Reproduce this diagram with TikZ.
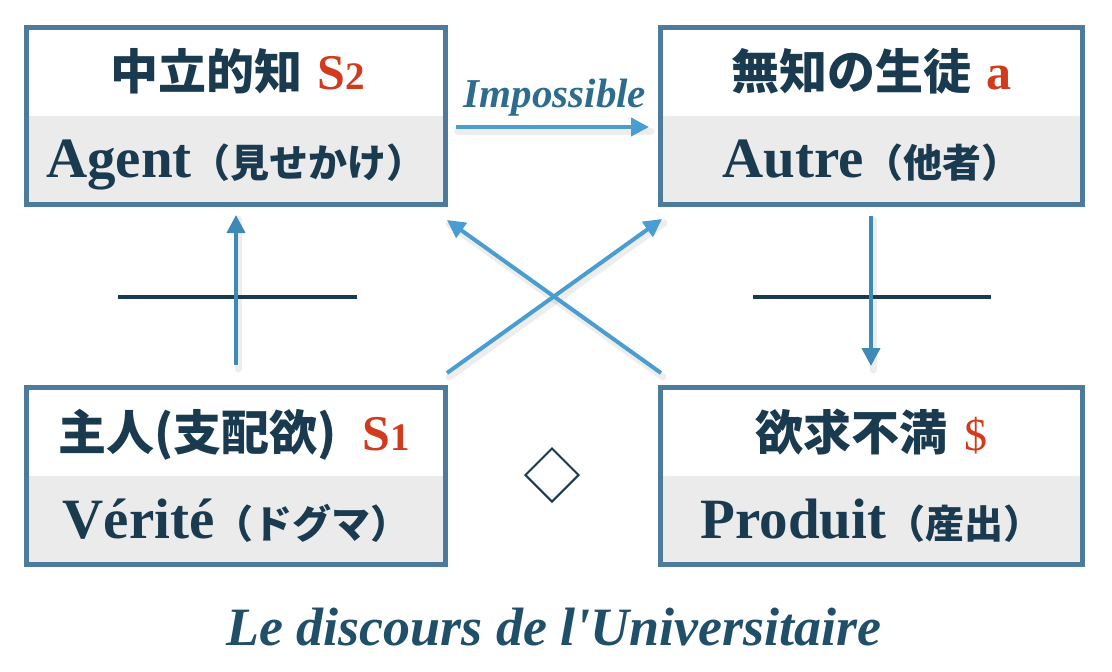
\documentclass[tikz,border=0pt]{standalone}
\usepackage{fontspec}
\setmainfont{Liberation Serif}
\newfontfamily\cjk{Noto Sans CJK JP}
\newfontfamily\rawserif{Liberation Serif}[Ligatures=TeXOff]
\usetikzlibrary{arrows.meta,shapes.geometric}
\definecolor{navy}{HTML}{1A3A4F}
\definecolor{redS}{HTML}{D23A1E}
\definecolor{frame}{HTML}{4D7B9B}
\definecolor{band}{HTML}{EBEBEB}
\definecolor{arrv}{HTML}{3F89B6}
\definecolor{arrd}{HTML}{4A9DD0}
\definecolor{imp}{HTML}{2D6C8D}
\definecolor{ttl}{HTML}{1F4F69}
\tikzset{
  box/.style={draw=frame, line width=5pt, fill=white, inner sep=0pt,
    path picture={\fill[band] (path picture bounding box.west) rectangle (path picture bounding box.south east);}},
  lbl/.style={anchor=base, inner sep=0pt, text=navy},
  flow/.style={line width=4pt, -{Triangle[length=18pt,width=18pt]}},
  shade/.style={line width=7pt, draw=black, opacity=0.07, line cap=round},
  bar/.style={line width=4pt, draw=navy},
}
\newcommand{\jt}[1]{{\cjk\bfseries\fontsize{48}{50}\selectfont #1}}
\newcommand{\js}[1]{{\cjk\bfseries\fontsize{39}{41}\selectfont #1}}
\newcommand{\rs}[2]{{\color{redS}\bfseries\fontsize{50}{52}\selectfont #1\fontsize{39}{41}\selectfont #2}}
\newcommand{\lw}[1]{{\bfseries\fontsize{57}{58}\selectfont #1}}
\begin{document}
\begin{tikzpicture}[x=1pt,y=-1pt]
\useasboundingbox (0,0) rectangle (1112,672);
% boxes
\node[box, minimum width=419pt, minimum height=177pt] (TL) at (236,116) {};
\node[box, minimum width=422pt, minimum height=177pt] (TR) at (871.5,116) {};
\node[box, minimum width=419pt, minimum height=177pt] (BL) at (236,475.5) {};
\node[box, minimum width=422pt, minimum height=177pt] (BR) at (871.5,475.5) {};
% texts
\node[lbl] (t1) at (238,89) {\jt{中立的知}\hspace{15pt}\rs{S}{2}};
\node[lbl] (t2) at (236,177) {\lw{Agent}\js{（見せかけ）}};
\node[lbl] (t3) at (871.5,89) {\jt{無知の生徒}\hspace{15pt}\rs{a}{}};
\node[lbl] (t4) at (871.5,177) {\lw{Autre}\js{（他者）}};
\node[lbl] (t5) at (234,450) {\jt{主人(支配欲)}\hspace{26pt}\rs{S}{1}};
\node[lbl] (t6) at (236,538) {\lw{Vérité}\js{（ドグマ）}};
\node[lbl] (t7) at (871.5,450) {\jt{欲求不満}\hspace{17pt}{\color{redS}\fontsize{46}{48}\selectfont\$}};
\node[lbl] (t8) at (871.5,538) {\lw{Produit}\js{（産出）}};
% diamond
\node[diamond, draw=navy, line width=2pt, minimum width=54pt, minimum height=54pt, inner sep=0pt] (D) at (552,475) {};
% bars
\coordinate (b1a) at (118,296.5); \coordinate (b1b) at (357,296.5);
\coordinate (b2a) at (753,296.5); \coordinate (b2b) at (991,296.5);
% arrow end points
\coordinate (l0) at (236,365); \coordinate (l1) at (236,215);
\coordinate (r0) at (871,216); \coordinate (r1) at (871,366);
\coordinate (d1a) at (447,373); \coordinate (d1b) at (662,219);
\coordinate (d2a) at (661,373); \coordinate (d2b) at (447,220);
\coordinate (h0) at (456,127); \coordinate (h1) at (649,127);
% shadows
\begin{scope}[transform canvas={shift={(2pt,-4pt)}}]
\draw[shade] (l0) -- (l1);
\draw[shade] (r0) -- (r1);
\draw[shade] (d1a) -- (d1b);
\draw[shade] (d2a) -- (d2b);
\draw[shade] (h0) -- (h1);
\end{scope}
\draw[bar] (b1a) -- (b1b);
\draw[bar] (b2a) -- (b2b);
\draw[flow, draw=arrv, fill=arrv] (l0) -- (l1);
\draw[flow, draw=arrv, fill=arrv] (r0) -- (r1);
\draw[flow, draw=arrd, fill=arrd] (d1a) -- (d1b);
\draw[flow, draw=arrd, fill=arrd] (d2a) -- (d2b);
\draw[flow, draw=arrd, fill=arrd] (h0) -- (h1);
\node[anchor=base, inner sep=0pt, text=imp] (imp) at (555,107) {\bfseries\itshape\fontsize{41}{43}\selectfont Impossible};
% title
\node[anchor=base, inner sep=0pt, text=ttl] (title) at (554,645) {\rawserif\bfseries\itshape\fontsize{54}{56}\selectfont Le discours de l'Universitaire};
\end{tikzpicture}
\end{document}
